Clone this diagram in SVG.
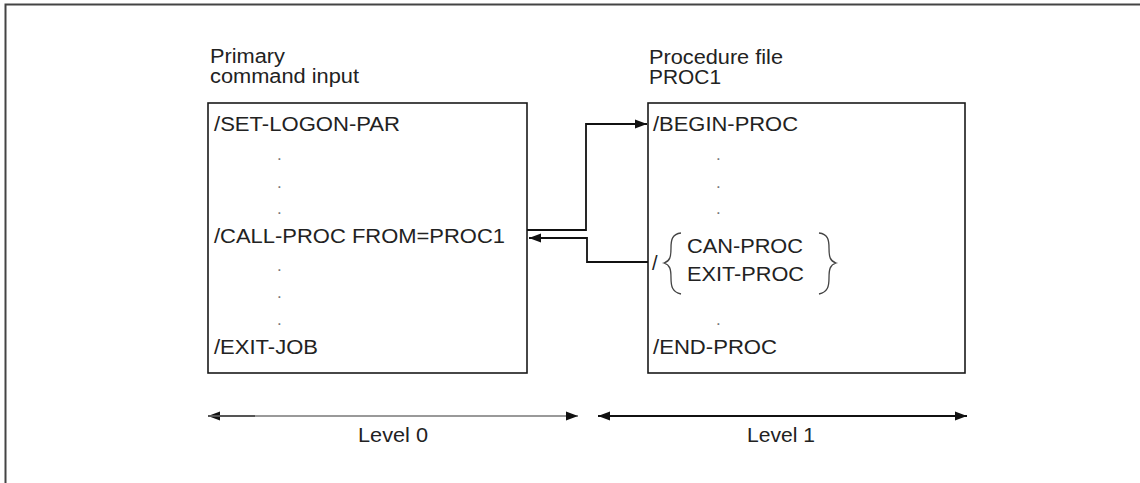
<svg xmlns="http://www.w3.org/2000/svg" width="1140" height="483" viewBox="0 0 1140 483">
<style>
text{font-family:"Liberation Sans",Arial,sans-serif;font-size:20px;fill:#222}
.box{fill:none;stroke:#1a1a1a;stroke-width:1.6}
.con{fill:none;stroke:#111;stroke-width:1.8}
.dot{fill:#777;font-size:17px}
</style>
<defs>
<marker id="ah" viewBox="0 0 12 10" refX="12" refY="5" markerWidth="12" markerHeight="10" markerUnits="userSpaceOnUse" orient="auto-start-reverse">
<path d="M0,0.5 L12,5 L0,9.5 z" fill="#111"/>
</marker>
</defs>
<rect width="1140" height="483" fill="#fff"/>
<path d="M5.5,483 V4.5 H1140" fill="none" stroke="#444" stroke-width="2"/>

<g id="primary">
<text x="210" y="63" textLength="75" lengthAdjust="spacingAndGlyphs">Primary</text>
<text x="210" y="83" textLength="149" lengthAdjust="spacingAndGlyphs">command input</text>
<rect class="box" x="208" y="103" width="319" height="270"/>
<text x="214" y="131" textLength="186" lengthAdjust="spacingAndGlyphs">/SET-LOGON-PAR</text>
<text class="dot" x="277" y="160">.</text>
<text class="dot" x="277" y="188">.</text>
<text class="dot" x="277" y="214">.</text>
<text x="214" y="243" textLength="291" lengthAdjust="spacingAndGlyphs">/CALL-PROC FROM=PROC1</text>
<text class="dot" x="277" y="271">.</text>
<text class="dot" x="277" y="298">.</text>
<text class="dot" x="277" y="325">.</text>
<text x="214" y="354" textLength="104" lengthAdjust="spacingAndGlyphs">/EXIT-JOB</text>
</g>

<g id="procfile">
<text x="649" y="64" textLength="134" lengthAdjust="spacingAndGlyphs">Procedure file</text>
<text x="649" y="84" textLength="72" lengthAdjust="spacingAndGlyphs">PROC1</text>
<rect class="box" x="648" y="103" width="317" height="270"/>
<text x="653" y="131" textLength="145" lengthAdjust="spacingAndGlyphs">/BEGIN-PROC</text>
<text class="dot" x="716" y="160">.</text>
<text class="dot" x="716" y="188">.</text>
<text class="dot" x="716" y="214">.</text>
<text x="652" y="270">/</text>
<path d="M681,233 C672,234 671,240 671,248 C671,257 670,261 664,263 C670,265 671,269 671,278 C671,286 672,292 681,294" fill="none" stroke="#444" stroke-width="1.3"/>
<text x="687" y="253" textLength="116" lengthAdjust="spacingAndGlyphs">CAN-PROC</text>
<text x="687" y="281" textLength="117" lengthAdjust="spacingAndGlyphs">EXIT-PROC</text>
<path d="M819,233 C828,234 829,240 829,248 C829,257 830,261 836,263 C830,265 829,269 829,278 C829,286 828,292 819,294" fill="none" stroke="#444" stroke-width="1.3"/>
<text class="dot" x="716" y="325">.</text>
<text x="653" y="354" textLength="124" lengthAdjust="spacingAndGlyphs">/END-PROC</text>
</g>

<g id="connectors">
<path class="con" d="M527,230 H586 V124 H647" marker-end="url(#ah)"/>
<path class="con" d="M648,262 H587 V238 H529" marker-end="url(#ah)"/>
<path d="M208,416 H578" fill="none" stroke="#999" stroke-width="1.8" marker-start="url(#ah)" marker-end="url(#ah)"/>
<path d="M208,416 H255" fill="none" stroke="#555" stroke-width="1.8"/>
<path class="con" d="M598,416 H967" marker-start="url(#ah)" marker-end="url(#ah)"/>
</g>

<g id="levels">
<text x="358" y="442" textLength="70" lengthAdjust="spacingAndGlyphs">Level 0</text>
<text x="747" y="442" textLength="68" lengthAdjust="spacingAndGlyphs">Level 1</text>
</g>
</svg>
